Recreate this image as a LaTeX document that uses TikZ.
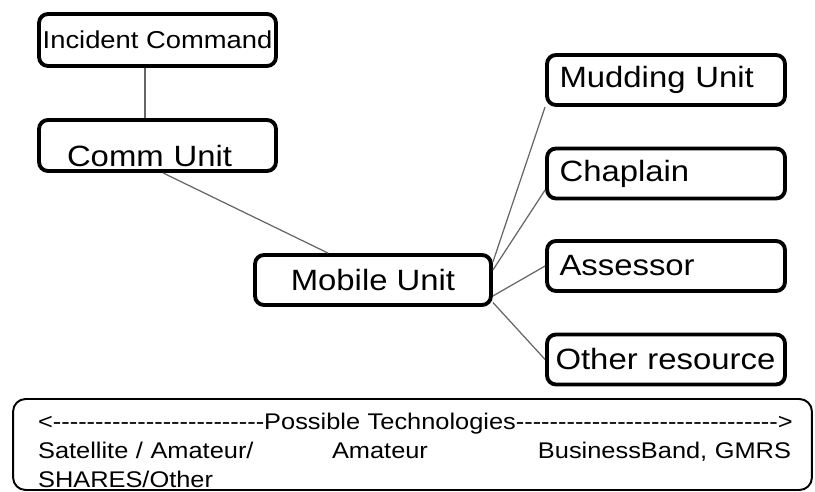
\documentclass[tikz,border=0pt]{standalone}
\usepackage{fontspec}
\setmainfont[FakeStretch=1.12, Ligatures=TeXOff]{Liberation Sans}
\usetikzlibrary{shapes}

\tikzset{
	unitbox/.style={rectangle, rounded corners=0.18cm, draw=black, line width=2.2pt, fill=white, font=\fontsize{16.7}{20}\selectfont},
	resbox/.style={unitbox, minimum height=1.0cm, text width=4.42cm, inner xsep=0.17cm, align=left},
	link/.style={draw=black!60, line width=0.7pt}
}

\begin{document}
\begin{tikzpicture}[x=0.02cm, y=-0.02cm]
		\useasboundingbox (0,0) rectangle (815,492);
		\def\xr{666}
		\node[unitbox, minimum width=4.74cm, minimum height=1.04cm, inner xsep=2pt, font=\fontsize{13.9}{16}\selectfont] (ic) at (157.5, 40) {Incident Command};
		\node[unitbox, text width=3.62cm, inner xsep=0.56cm, inner ysep=0pt, minimum height=1.02cm, text height=0.86cm, text depth=0cm, align=left] (comm) at (157.5, 145.5) {Comm Unit};
		\node[unitbox, minimum width=4.72cm, minimum height=1.0cm] (mobile) at (373, 280) {Mobile Unit};
		\node[resbox] (mud) at (\xr, 80) {\hspace{0.08cm}Mudding Unit};
		\node[resbox] (chap) at (\xr, 173.5) {\hspace{0.08cm}Chaplain};
		\node[resbox] (assess) at (\xr, 266) {\hspace{0.08cm}Assessor};
		\node[resbox] (other) at (\xr, 359.5) {Other resource};
		\node[rectangle, rounded corners=0.25cm, draw=black, line width=1.1pt, minimum width=15.98cm, minimum height=1.82cm, text width=14.98cm, inner xsep=0.5cm, inner ysep=0pt, text height=0.53cm, text depth=1.13cm, align=left, font=\fontsize{12.9}{16.5}\selectfont] (tech) at (412.5, 444.5)
			{\mbox{<-------------------------Possible Technologies------------------------------->}\\
			\mbox{\makebox[5.88cm][l]{Satellite / Amateur/}\makebox[4.12cm][l]{Amateur}BusinessBand, GMRS}\\
			SHARES/Other};
		\draw[link] ([xshift=-0.25cm]ic.south) -- ([xshift=-0.25cm]comm.north);
		\draw[link] ([xshift=0.11cm]comm.south) -- ([xshift=-0.9cm]mobile.north);
		\draw[link] ([yshift=0.36cm]mobile.east) -- (mud.south west);
		\draw[link] ([yshift=0.2cm]mobile.east) -- ([yshift=-0.33cm]chap.west);
		\draw[link] ([yshift=-0.32cm]mobile.east) -- (assess.west);
		\draw[link] ([yshift=-0.45cm]mobile.east) -- (other.west);
	\end{tikzpicture}
\end{document}
